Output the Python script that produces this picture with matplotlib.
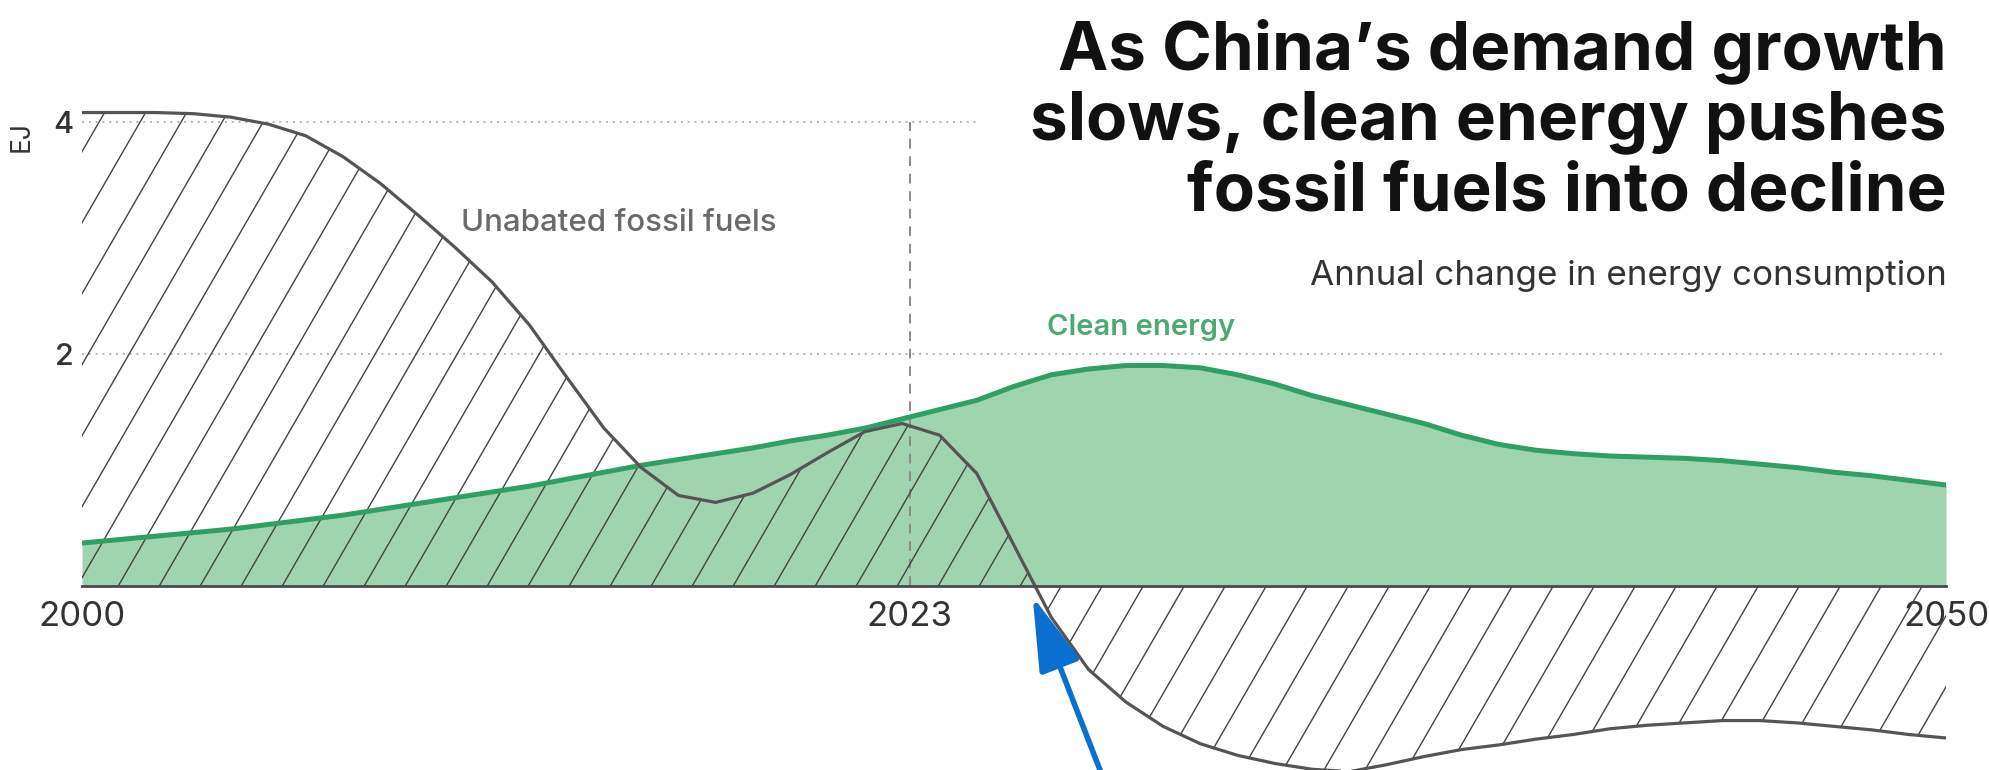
import numpy as np
import matplotlib.pyplot as plt
from matplotlib.collections import LineCollection

# annual change in energy consumption, EJ
years = list(range(2000, 2051))
clean = [0.37, 0.40, 0.43, 0.46, 0.49, 0.53, 0.57, 0.61, 0.66, 0.71,
         0.76, 0.81, 0.86, 0.92, 0.98, 1.04, 1.09, 1.14, 1.19, 1.25,
         1.30, 1.36, 1.44, 1.52, 1.60, 1.72, 1.82, 1.87, 1.90, 1.90,
         1.88, 1.82, 1.74, 1.64, 1.56, 1.48, 1.40, 1.30, 1.22, 1.17,
         1.14, 1.12, 1.11, 1.10, 1.08, 1.05, 1.02, 0.98, 0.95, 0.91,
         0.87]
fossil = [4.08, 4.08, 4.08, 4.07, 4.04, 3.98, 3.88, 3.70, 3.47, 3.20,
          2.92, 2.62, 2.25, 1.80, 1.36, 1.02, 0.78, 0.72, 0.80, 0.96,
          1.15, 1.33, 1.40, 1.30, 0.97, 0.35, -0.27, -0.72, -1.00, -1.21,
          -1.36, -1.46, -1.53, -1.58, -1.60, -1.54, -1.47, -1.41, -1.37, -1.32,
          -1.28, -1.23, -1.20, -1.18, -1.16, -1.16, -1.18, -1.21, -1.24, -1.28,
          -1.31]

tick_pos = [2000, 2022.2, 2050]
tick_labels = ['2000', '2023', '2050']
marker_year = 2022.2

plt.rcParams['font.family'] = ['Inter', 'DejaVu Sans']

W, H = 1990, 770
fig = plt.figure(figsize=(W / 100, H / 100), dpi=100)
ax = fig.add_axes([82 / W, 0, 1864 / W, 1])
ax.set_xlim(2000, 2050)
ax.set_ylim(-1.586, 5.05)

# grid
ax.axhline(4, xmax=(977 - 82) / 1864, color='#b5b5b5', ls=(0, (1, 2.5)), lw=1.4, zorder=0)
ax.axhline(2, color='#b5b5b5', ls=(0, (1, 2.5)), lw=1.4, zorder=0)
ax.vlines(marker_year, 0, 4, color='#8a8a8a', ls=(0, (5, 4)), lw=1.4, zorder=2)

# clean energy
ax.fill_between(years, 0, clean, color='#9fd4ae', lw=0, zorder=1)
ax.plot(years, clean, color='#2f9f63', lw=3.6, zorder=4, solid_joinstyle='round')

# fossil fuels, hatched area
poly = ax.fill_between(years, 0, fossil, facecolor='none', lw=0)
aw, ah = 1864, 770
dx = ah / np.tan(np.radians(60))
segs = [[(x0 / aw, 0), ((x0 + dx) / aw, 1)] for x0 in np.arange(-480, aw, 41)]
lc = LineCollection(segs, colors='#444444', linewidths=1.0, transform=ax.transAxes, zorder=3)
lc.set_clip_path(poly.get_paths()[0], ax.transData)
ax.add_collection(lc)
ax.plot(years, fossil, color='#555555', lw=2.3, zorder=5, solid_joinstyle='round')

for s in ['top', 'right', 'left']:
    ax.spines[s].set_visible(False)
ax.spines['bottom'].set_position(('data', 0))
ax.spines['bottom'].set_color('#4a4a4a')
ax.spines['bottom'].set_linewidth(2)
ax.spines['bottom'].set_zorder(6)

ax.set_xticks(tick_pos, tick_labels)
ax.set_yticks([2, 4], ['2', '4'])
ax.tick_params(axis='x', length=0, pad=11, labelsize=25, labelcolor='#333333')
ax.tick_params(axis='y', length=0, pad=6, labelsize=22, labelcolor='#333333')
for t in ax.get_yticklabels():
    t.set_fontweight('medium')

ax.text(2028.4, 2.23, 'Clean energy', color='#4caa74', fontsize=21,
        fontweight='semibold', ha='center', va='center')
ax.text(2014.4, 3.13, 'Unabated fossil fuels', color='#6a6a6a', fontsize=22.5,
        fontweight='medium', ha='center', va='center')

fig.text(22 / W, 1 - 137 / H, 'EJ', rotation=90, ha='center', va='center',
         fontsize=19, color='#333333')
fig.text(1947 / W, 1 - 18 / H,
         'As China\u2019s demand growth\nslows, clean energy pushes\nfossil fuels into decline',
         ha='right', va='top', fontsize=48.5, fontweight='bold', color='#111111',
         linespacing=1.14)
fig.text(1947 / W, 1 - 285 / H, 'Annual change in energy consumption',
         ha='right', va='baseline', fontsize=25.2, color='#333333')

# blue arrow pointing at the crossover
ax.annotate('', xy=(2025.5, -0.09), xycoords='data',
            xytext=(1103 / W, -0.01), textcoords='figure fraction',
            arrowprops=dict(arrowstyle='-|>,head_length=1.15,head_width=0.33',
                            color='#0b6fd0', lw=4, mutation_scale=40,
                            shrinkA=0, shrinkB=0),
            annotation_clip=False, zorder=10)

fig.savefig('out.png', dpi=100)
